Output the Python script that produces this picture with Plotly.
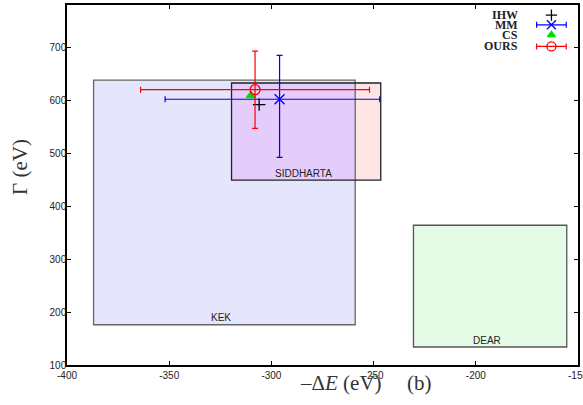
import plotly.graph_objects as go

# ---- data ----
box_names = ["KEK", "SIDDHARTA", "DEAR"]
box_dE = [-323, -283, -193]          # centre of -dE (eV)
box_dE_err = [64, 36.5, 37.5]
box_G = [407, 541, 249]              # centre of Gamma (eV)
box_G_err = [231, 91.7, 115]
box_fill = ["#e5e5fb", "#fde5e5", "#e5fbe5"]
box_line = ["#666666", "#222222", "#555555"]
overlap_fill = "#e5cdfb"

pt_names = ["IHW", "MM", "CS", "OURS"]
pt_dE = [-306, -296, -310, -308]
pt_G = [592, 602, 609, 620]
pt_dE_plus = [0, 49, 0, 56]
pt_dE_minus = [0, 56, 0, 56]
pt_G_plus = [0, 83, 0, 73]
pt_G_minus = [0, 110, 0, 73]
pt_color = ["black", "blue", "#00dd00", "red"]
pt_symbol = ["cross-thin", "x-thin", "triangle-up", "circle-open"]
pt_size = [9, 10, 8, 10]
pt_has_err = [False, True, False, True]

x_ticks = [-400, -350, -300, -250, -200, -150]
y_ticks = [100, 200, 300, 400, 500, 600, 700]

fig = go.Figure()

shapes = []
annotations = []
# fills
for i in range(3):
    shapes.append(dict(type="rect", xref="x", yref="y",
                       x0=box_dE[i] - box_dE_err[i], x1=box_dE[i] + box_dE_err[i],
                       y0=box_G[i] - box_G_err[i], y1=box_G[i] + box_G_err[i],
                       fillcolor=box_fill[i], line=dict(width=0), layer="below"))
# overlap of KEK and SIDDHARTA
ox0 = max(box_dE[0] - box_dE_err[0], box_dE[1] - box_dE_err[1])
ox1 = min(box_dE[0] + box_dE_err[0], box_dE[1] + box_dE_err[1])
oy0 = max(box_G[0] - box_G_err[0], box_G[1] - box_G_err[1])
oy1 = min(box_G[0] + box_G_err[0], box_G[1] + box_G_err[1])
shapes.append(dict(type="rect", xref="x", yref="y", x0=ox0, x1=ox1, y0=oy0, y1=oy1,
                   fillcolor=overlap_fill, line=dict(width=0), layer="below"))
# outlines
for i in range(3):
    shapes.append(dict(type="rect", xref="x", yref="y",
                       x0=box_dE[i] - box_dE_err[i], x1=box_dE[i] + box_dE_err[i],
                       y0=box_G[i] - box_G_err[i], y1=box_G[i] + box_G_err[i],
                       fillcolor="rgba(0,0,0,0)", line=dict(width=1.3, color=box_line[i]),
                       layer="below"))
    annotations.append(dict(x=box_dE[i], y=box_G[i] - box_G_err[i], xref="x", yref="y",
                            text=box_names[i], showarrow=False, yanchor="middle", yshift=7,
                            xshift=-3,
                            font=dict(family="Liberation Sans", size=10, color="#222222")))

for i in range(4):
    kw = {}
    if pt_has_err[i]:
        kw["error_x"] = dict(type="data", symmetric=False, array=[pt_dE_plus[i]],
                             arrayminus=[pt_dE_minus[i]], color=pt_color[i],
                             thickness=1.2, width=3)
        kw["error_y"] = dict(type="data", symmetric=False, array=[pt_G_plus[i]],
                             arrayminus=[pt_G_minus[i]], color=pt_color[i],
                             thickness=1.2, width=3)
    fig.add_trace(go.Scatter(x=[pt_dE[i]], y=[pt_G[i]], mode="markers", name=pt_names[i],
                             marker=dict(symbol=pt_symbol[i], size=pt_size[i],
                                         color=pt_color[i],
                                         line=dict(width=1.3, color=pt_color[i])),
                             showlegend=False, **kw))

# manual legend (text right, sample to the right)
leg_y = [0.972, 0.945, 0.917, 0.885]
for i in range(4):
    annotations.append(dict(x=0.886, y=leg_y[i], xref="paper", yref="paper",
                            text="<b>" + pt_names[i] + "</b>", showarrow=False,
                            xanchor="right", yanchor="middle",
                            font=dict(family="Liberation Serif", size=12, color="#222222")))
    kw = {}
    if pt_has_err[i]:
        kw["error_x"] = dict(type="data", array=[0.029], color=pt_color[i],
                             thickness=1.2, width=3)
    fig.add_trace(go.Scatter(x=[0.948], y=[leg_y[i]], xaxis="x2", yaxis="y2",
                             mode="markers", showlegend=False, hoverinfo="skip",
                             marker=dict(symbol=pt_symbol[i], size=pt_size[i] - 1,
                                         color=pt_color[i],
                                         line=dict(width=1.3, color=pt_color[i])),
                             **kw))

# axis titles
annotations.append(dict(x=0.536, y=-0.05, xref="paper", yref="paper",
                        text="–Δ<i>E</i> (eV)", showarrow=False, yanchor="middle",
                        font=dict(family="Liberation Serif", size=21, color="#333333")))
annotations.append(dict(x=0.718, y=-0.05, xref="paper", yref="paper",
                        text="(b)", showarrow=False, yanchor="middle",
                        font=dict(family="Liberation Serif", size=21, color="#333333")))
annotations.append(dict(x=-0.092, y=0.55, xref="paper", yref="paper",
                        text="Γ (eV)", showarrow=False, textangle=-90,
                        xanchor="center", yanchor="middle",
                        font=dict(family="Liberation Serif", size=21, color="#333333")))

axis_common = dict(showgrid=False, zeroline=False, showline=True, linecolor="black",
                   linewidth=1.5, mirror="ticks", ticks="inside", ticklen=4,
                   tickcolor="black", tickwidth=1, automargin=False,
                   ticklabeloverflow="allow",
                   tickfont=dict(family="Liberation Sans", size=10, color="#222222"))

fig.update_layout(
    width=583, height=405,
    margin=dict(l=67, r=5, t=5, b=40, autoexpand=False),
    paper_bgcolor="white", plot_bgcolor="white",
    xaxis=dict(range=[-400, -150], tickvals=x_ticks, ticktext=[str(v) for v in x_ticks],
               **axis_common),
    yaxis=dict(range=[100, 780], tickvals=y_ticks, ticktext=[str(v) for v in y_ticks],
               ticklabelstandoff=-3, **axis_common),
    xaxis2=dict(range=[0, 1], overlaying="x", visible=False, showgrid=False),
    yaxis2=dict(range=[0, 1], overlaying="y", visible=False, showgrid=False),
    shapes=shapes, annotations=annotations, showlegend=False,
)

fig.write_html("out.html", config={"displayModeBar": False},
               post_script="document.body.style.margin='0';document.body.style.overflow='hidden';")
